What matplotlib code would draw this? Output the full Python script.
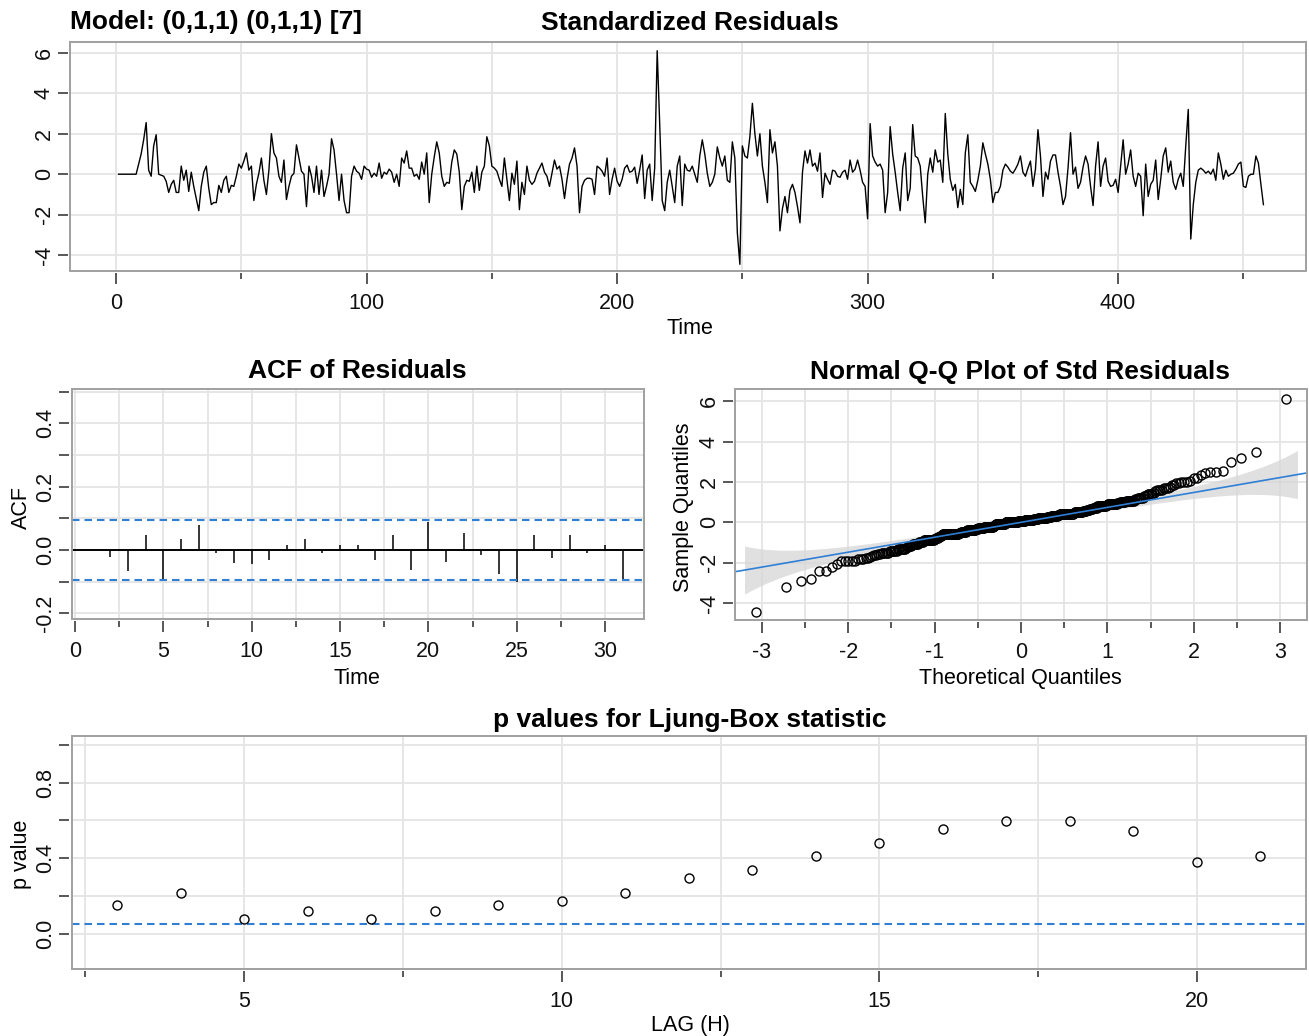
import numpy as np
import matplotlib
matplotlib.use("Agg")
import matplotlib.pyplot as plt
from matplotlib.patches import Rectangle
from statistics import NormalDist

plt.rcParams["font.family"] = ["Liberation Sans", "DejaVu Sans"]
plt.rcParams["axes.unicode_minus"] = False

# Standardized residuals of the fitted SARIMA model, t = 1..458
std_resid = [
    0, 0, 0, 0, 0, 0, 0, 0, 0.5, 1.0,
    1.7, 2.55, 0.2, -0.1, 1.4, 1.95, 0.0, -0.05, -0.1, -0.35,
    -0.9, -0.5, -0.3, -0.9, -0.9, 0.4, -0.3, 0.2, -0.85, 0.1,
    -0.6, -1.2, -1.8, -0.6, 0.1, 0.4, -0.7, -1.5, -1.4, -1.4,
    -0.55, -0.9, -0.3, -0.1, -0.9, -0.55, -0.6, -0.1, 0.5, 0.3,
    0.65, 1.05, 0.2, 0.4, -1.3, -0.5, 0.05, 0.8, -0.3, -1.0,
    0.2, 2.0, 1.05, 0.8, -0.1, -0.4, 0.7, -1.25, -0.6, -0.1,
    0.05, 1.45, 0.8, 0.15, 0.0, -1.6, 0.4, -0.1, -0.9, 0.4,
    -1.0, 0.2, -1.1, -0.6, 0.0, 1.75, 1.2, 0.0, -1.3, 0.0,
    -1.3, -1.9, -1.9, -0.1, 0.4, 0.15, 0.05, -0.25, 0.4, 0.25,
    0.2, -0.15, 0.05, -0.1, 0.55, -0.2, 0.1, 0.0, 0.25, 0.1,
    -0.4, 0.0, -0.6, 0.8, 0.55, 1.15, 0.3, 0.3, -0.1, 0.0,
    -0.25, 0.6, 0.0, 1.05, -1.4, 0.0, 0.85, 1.6, 1.05, -0.1,
    -0.6, -0.4, -0.45, 0.6, 1.2, 1.0, 0.1, -1.75, -0.6, -0.3,
    -0.35, 0.1, -0.9, 0.4, -0.8, 0.1, 0.4, 1.85, 1.4, 0.4,
    0.3, 0.15, -0.25, -0.6, 0.8, -0.25, -1.3, 0.05, -0.5, 0.65,
    -1.75, -0.4, -1.0, 0.4, -0.3, -0.5, -0.35, 0.05, 0.3, 0.55,
    0.1, -0.1, -0.6, 0.05, 0.7, 0.25, 0.4, -0.25, -1.2, -0.25,
    0.5, 0.8, 1.3, 0.4, -1.9, -0.6, -0.3, -0.2, -0.2, -0.25,
    -1.0, 0.4, 0.3, 0.15, -0.1, 0.8, -1.0, -0.25, 0.3, -0.35,
    -0.6, -0.25, 0.3, 0.45, 0.1, 0.15, 0.35, -0.45, 0.2, 0.95,
    -1.2, 0.2, 0.5, -1.3, 0.3, 6.1, 2.5, -1.3, -1.8, -0.4,
    0.2, -0.6, -1.4, 0.4, 0.9, -1.55, 0.5, 0.2, 0.15, 0.4,
    0.0, -0.4, 0.9, 1.7, 1.0, 0.05, -0.6, -0.4, 0.0, 1.35,
    0.8, 0.4, 0.9, -0.3, -0.4, 1.6, 0.8, -2.9, -4.45, 1.4,
    0.9, 0.8, 1.85, 3.5, 2.0, 0.9, 2.0, 0.4, -0.4, -1.4,
    2.2, 1.05, 1.6, 0.4, -2.8, -1.7, -1.1, -1.9, -0.8, -0.5,
    -0.9, -1.6, -2.4, 0.1, 1.15, 0.55, 1.2, 0.4, 0.55, 0.15,
    1.05, -1.15, 0.05, -0.25, -0.5, 0.2, 0.15, -0.1, -0.15, 0.1,
    0.2, -0.25, 0.7, 0.1, 0.25, 0.7, 0.2, -0.4, -0.6, -2.2,
    2.5, 0.9, 0.6, 0.4, 0.5, 0.2, -1.9, -0.9, 2.35, 1.0,
    0.1, -0.9, -1.8, 0.3, 1.05, -1.3, -0.7, 2.45, 0.9, 0.8,
    0.4, -1.1, -2.4, 0.0, 0.8, 0.1, 1.2, 0.6, 0.7, -0.4,
    3.0, 1.0, -0.25, -0.8, -0.5, -1.65, -0.75, -1.5, 1.05, 1.95,
    -0.4, -0.6, -0.85, -0.3, 0.4, 1.55, 1.0, 0.5, -0.25, -1.4,
    -0.9, -0.9, -0.6, 0.2, 0.5, 0.35, 0.15, 0.05, 0.25, 0.5,
    0.9, 0.1, -0.1, 0.3, 0.65, -0.6, 0.25, 2.2, 0.9, -1.1,
    0.1, -0.25, 0.65, 0.95, 0.95, 0.1, -0.6, -1.5, -1.1, 0.3,
    2.05, 0.0, 0.35, -0.7, -0.4, 0.35, 0.9, 0.5, -0.6, -1.55,
    0.4, 1.6, -0.6, 0.4, 0.8, -0.35, -0.6, -0.55, -0.25, -0.9,
    0.4, 1.7, 0.0, 0.5, 1.2, -0.1, -0.6, 0.05, -0.1, -2.05,
    0.5, -1.1, -0.5, -0.3, 0.7, -1.25, -0.25, 0.9, 1.3, 0.1,
    0.65, -0.4, -0.75, -0.25, 0.05, -0.6, 1.4, 3.2, -3.2, -1.5,
    -0.4, 0.2, 0.3, 0.2, 0.05, 0.15, 0.0, 0.25, -0.3, 1.05,
    0.5, -0.25, 0.2, -0.1, 0.0, 0.05, 0.25, 0.5, 0.6, -0.6,
    -0.65, -0.1, 0.0, 0.0, 0.9, 0.55, -0.5, -1.5,
]

# Sample autocorrelations of the residuals, lags 1..31
acf_lags = list(range(1, 32))
acf_values = [
    0.004, -0.023, -0.068, 0.047, -0.093, 0.034, 0.079, -0.010, -0.042, -0.044,
    -0.032, 0.016, 0.034, -0.010, 0.016, 0.016, -0.032, 0.047, -0.063, 0.087,
    -0.037, 0.055, -0.016, -0.076, -0.100, 0.047, -0.026, 0.047, -0.010, 0.016,
    -0.095,
]

# Ljung-Box p-values by lag
lb_lags = list(range(3, 22))
lb_pvalues = [0.151, 0.217, 0.076, 0.119, 0.076, 0.119, 0.151, 0.174, 0.217,
              0.293, 0.336, 0.414, 0.478, 0.555, 0.597, 0.597, 0.542, 0.379, 0.414]

model_label = "Model: (0,1,1) (0,1,1) [7]"
alpha_level = 0.05

W, H = 1309, 1036
fig = plt.figure(figsize=(W / 100, H / 100), dpi=100)
fig.patch.set_facecolor("white")

GRID = "#e4e4e4"
FRAME = "#a0a0a0"
TICK = "#2a2a2a"
BLUE = "#2f7fd5"
BASE = 15.5
TITLE = 19
DY = 2.5  # vertical nudge for free-standing labels


def panel(l, t, r, b):
    return fig.add_axes([l / W, 1 - b / H, (r - l) / W, (b - t) / H])


def ftext(x, y, s, **kw):
    fig.text(x / W, 1 - (y + DY) / H, s, **kw)


def dress(ax, xlim, ylim, xmajor, xlabels, xminor, ymajor, ylabels, yminor,
          xgrid, ygrid):
    ax.set_xlim(*xlim)
    ax.set_ylim(*ylim)
    for g in xgrid:
        ax.axvline(g, color=GRID, lw=1.3, zorder=0)
    for g in ygrid:
        ax.axhline(g, color=GRID, lw=1.3, zorder=0)
    for s in ax.spines.values():
        s.set_visible(False)
    ax.spines["left"].set_position(("outward", 1.5))
    ax.spines["bottom"].set_position(("outward", 1.5))
    ax.add_patch(Rectangle((0, 0), 1, 1, transform=ax.transAxes, fill=False,
                           ec=FRAME, lw=1.4, clip_on=False, zorder=6))
    ax.set_xticks(xmajor)
    ax.set_xticklabels(xlabels)
    ax.set_xticks(xminor, minor=True)
    ax.set_yticks(ymajor)
    ax.set_yticklabels(ylabels)
    ax.set_yticks(yminor, minor=True)
    ax.tick_params(which="both", direction="out", color=TICK, width=1.1,
                   labelsize=BASE, labelcolor="#111111")
    ax.tick_params(axis="x", which="major", length=8, pad=6)
    ax.tick_params(axis="x", which="minor", length=4)
    ax.tick_params(axis="y", which="both", length=7.5, pad=2)
    ax.tick_params(axis="y", labelrotation=90)
    plt.setp(ax.get_yticklabels(), va="center")


# ---- Standardized residuals ----
resid = np.asarray(std_resid, dtype=float)
n = len(resid)
t = np.arange(1, n + 1)

ax1 = panel(70, 42, 1306, 271)
dress(ax1, (-18.4, 475.0), (-4.78, 6.53),
      [0, 100, 200, 300, 400], ["0", "100", "200", "300", "400"],
      [50, 150, 250, 350, 450],
      [-4, -2, 0, 2, 4, 6], ["-4", "-2", "0", "2", "4", "6"], [],
      np.arange(0, 451, 50), np.arange(-4, 7, 2))
ax1.plot(t, resid, color="black", lw=1.0, zorder=3)
ftext(70, 20, model_label, ha="left", va="center", fontsize=TITLE, fontweight="bold")
ftext(690, 20, "Standardized Residuals", ha="center", va="center",
      fontsize=TITLE, fontweight="bold")
ftext(690, 326, "Time", ha="center", va="center", fontsize=BASE)

# ---- ACF of residuals ----
ax2 = panel(71.5, 389, 644, 619)
dress(ax2, (-0.2, 32.2), (-0.218, 0.508),
      [0, 5, 10, 15, 20, 25, 30], ["0", "5", "10", "15", "20", "25", "30"],
      [2.5, 7.5, 12.5, 17.5, 22.5, 27.5],
      [-0.2, 0.0, 0.2, 0.4], ["-0.2", "0.0", "0.2", "0.4"], [-0.1, 0.1, 0.3, 0.5],
      np.arange(0, 31, 2.5), np.arange(-0.2, 0.51, 0.1))
ax2.axhline(0, color="black", lw=1.4, zorder=3)
ax2.vlines(acf_lags, 0, acf_values, color="black", lw=1.1, zorder=3)
bound = 2 / np.sqrt(n)
for b in (bound, -bound):
    ax2.axhline(b, color=BLUE, lw=1.5, ls=(0, (3.6, 2.4)), zorder=4)
ftext(357, 369, "ACF of Residuals", ha="center", va="center",
      fontsize=TITLE, fontweight="bold")
ftext(357, 676, "Time", ha="center", va="center", fontsize=BASE)
ftext(21, 505, "ACF", ha="center", va="center", rotation=90, fontsize=BASE)

# ---- Normal Q-Q plot ----
nd = NormalDist()
sample_q = np.sort(resid)
pp = (np.arange(1, n + 1) - 0.5) / n
theo_q = np.array([nd.inv_cdf(p) for p in pp])
q1, q3 = np.percentile(resid, [25, 75])
z1, z3 = nd.inv_cdf(0.25), nd.inv_cdf(0.75)
slope = (q3 - q1) / (z3 - z1)
icpt = q1 - slope * z1
zg = np.linspace(-3.2, 3.2, 300)
pg = np.array([nd.cdf(z) for z in zg])
dens = np.array([nd.pdf(z) for z in zg])
se = slope / dens * np.sqrt(pg * (1 - pg) / n)
fitg = icpt + slope * zg
band_z = 3.15

ax3 = panel(735, 389, 1307, 620)
dress(ax3, (-3.31, 3.31), (-4.85, 6.62),
      [-3, -2, -1, 0, 1, 2, 3], ["-3", "-2", "-1", "0", "1", "2", "3"],
      [-2.5, -1.5, -0.5, 0.5, 1.5, 2.5],
      [-4, -2, 0, 2, 4, 6], ["-4", "-2", "0", "2", "4", "6"], [],
      np.arange(-3, 3.01, 0.5), np.arange(-4, 7, 2))
ax3.fill_between(zg, fitg - band_z * se, fitg + band_z * se,
                 color="#d6d6d6", alpha=0.75, lw=0, zorder=1)
ax3.plot(theo_q, sample_q, ls="none", marker="o", ms=6.5, mfc="none",
         mec="black", mew=1.0, zorder=3)
ax3.axline((0, icpt), slope=slope, color=BLUE, lw=1.2, zorder=4)
ftext(1020, 369, "Normal Q-Q Plot of Std Residuals", ha="center", va="center",
      fontsize=TITLE, fontweight="bold")
ftext(1020, 676, "Theoretical Quantiles", ha="center", va="center", fontsize=BASE)
ftext(683, 505, "Sample Quantiles", ha="center", va="center", rotation=90,
      fontsize=BASE)

# ---- Ljung-Box p-values ----
ax4 = panel(71.5, 736, 1306, 969)
dress(ax4, (2.28, 21.72), (-0.186, 1.046),
      [5, 10, 15, 20], ["5", "10", "15", "20"], [2.5, 7.5, 12.5, 17.5],
      [0.0, 0.4, 0.8], ["0.0", "0.4", "0.8"], [0.2, 0.6, 1.0],
      np.arange(2.5, 21, 2.5), np.arange(0, 1.01, 0.2))
ax4.axhline(alpha_level, color=BLUE, lw=1.5, ls=(0, (3.6, 2.4)), zorder=2)
ax4.plot(lb_lags, lb_pvalues, ls="none", marker="o", ms=6.5, mfc="none",
         mec="black", mew=1.0, zorder=3)
ftext(690, 718, "p values for Ljung-Box statistic", ha="center", va="center",
      fontsize=TITLE, fontweight="bold")
ftext(690, 1023, "LAG (H)", ha="center", va="center", fontsize=BASE)
ftext(21, 852, "p value", ha="center", va="center", rotation=90, fontsize=BASE)

fig.savefig("out.png", dpi=100, facecolor="white")
